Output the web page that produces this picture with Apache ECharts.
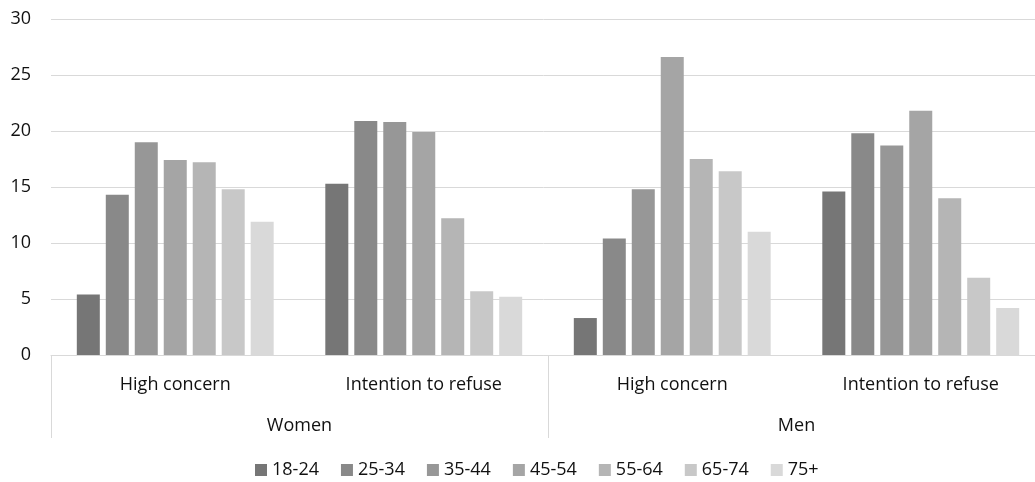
<!DOCTYPE html>
<html>
<head>
<meta charset="utf-8">
<script src="https://cdn.jsdelivr.net/npm/echarts@6/dist/echarts.min.js"></script>
<style>html,body{margin:0;padding:0;background:#fff}#c{width:1035px;height:482px}</style>
</head>
<body>
<div id="c"></div>
<script>
const categories = ["High concern", "Intention to refuse", "High concern", "Intention to refuse"];
const groups = ["Women", "Men"];
const seriesNames = ["18-24", "25-34", "35-44", "45-54", "55-64", "65-74", "75+"];
const s18_24 = [5.4, 15.3, 3.3, 14.6];
const s25_34 = [14.3, 20.9, 10.4, 19.8];
const s35_44 = [19.0, 20.8, 14.8, 18.7];
const s45_54 = [17.4, 19.9, 26.6, 21.8];
const s55_64 = [17.2, 12.2, 17.5, 14.0];
const s65_74 = [14.8, 5.7, 16.4, 6.9];
const s75p = [11.9, 5.2, 11.0, 4.2];
const yTicks = [0, 5, 10, 15, 20, 25, 30];

const values = [s18_24, s25_34, s35_44, s45_54, s55_64, s65_74, s75p];
const colors = ["#767676", "#898989", "#979797", "#a5a5a5", "#b5b5b5", "#c8c8c8", "#d9d9d9"];
const font = "'Open Sans', sans-serif";
const txt = '#111';

const chart = echarts.init(document.getElementById('c'));
chart.setOption({
  animation: false,
  color: colors,
  textStyle: { fontFamily: font },
  legend: {
    top: 461,
    left: 255,
    itemWidth: 12,
    itemHeight: 12,
    itemGap: 22,
    icon: 'rect',
    padding: 0,
    textStyle: { fontSize: 18, color: txt, fontFamily: font },
    data: seriesNames
  },
  grid: { left: 51, top: 19, width: 994, height: 336, containLabel: false, outerBoundsMode: 'none' },
  xAxis: [
    {
      type: 'category',
      data: categories,
      position: 'bottom',
      axisLine: { show: true, lineStyle: { color: '#d9d9d9', width: 1 } },
      axisTick: { show: false },
      axisLabel: { fontSize: 18, color: txt, margin: 21, fontFamily: font }
    },
    {
      type: 'category',
      data: groups,
      position: 'bottom',
      axisLine: { show: false },
      axisTick: { show: true, length: 83, lineStyle: { color: '#d9d9d9', width: 1 } },
      axisLabel: { fontSize: 18, color: txt, margin: 62, fontFamily: font }
    }
  ],
  yAxis: {
    type: 'value',
    min: yTicks[0],
    max: yTicks[yTicks.length - 1],
    interval: 5,
    axisLine: { show: false },
    axisTick: { show: false },
    axisLabel: { fontSize: 18, color: txt, margin: 20, fontFamily: font },
    splitLine: { lineStyle: { color: '#d9d9d9', width: 1 } }
  },
  series: seriesNames.map((n, i) => ({
    name: n,
    type: 'bar',
    xAxisIndex: 0,
    data: values[i],
    barWidth: 23,
    barGap: '26%',
    itemStyle: { color: colors[i] }
  }))
});
</script>
</body>
</html>
